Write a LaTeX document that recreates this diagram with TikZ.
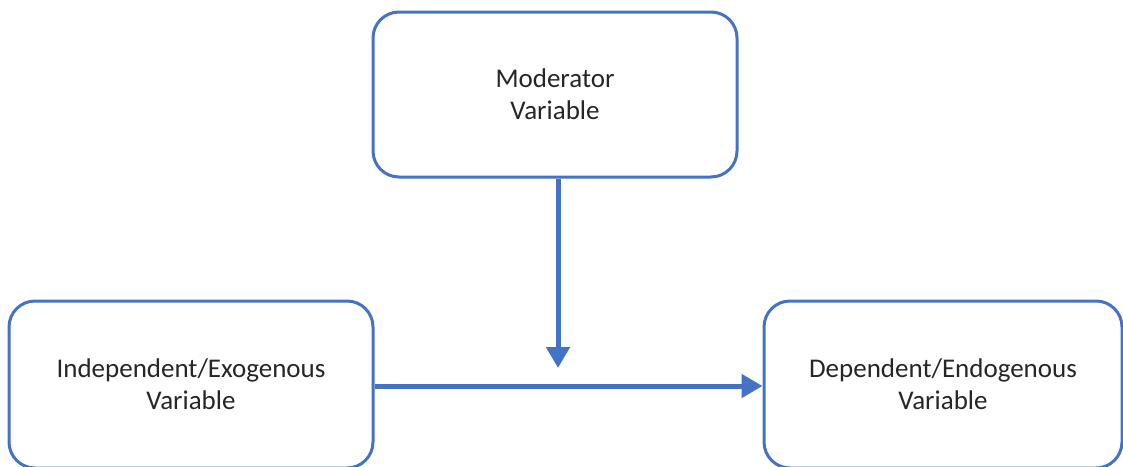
\documentclass[tikz,border=0pt]{standalone}
\usepackage{fontspec}
\setmainfont{Carlito}
\usetikzlibrary{arrows.meta}
\definecolor{boxblue}{HTML}{4472C4}
\definecolor{txt}{HTML}{262626}
\begin{document}
\begin{tikzpicture}[x=1pt,y=-1pt,
  varbox/.style={draw=boxblue, line width=3pt, rounded corners=26pt,
    fill=white, align=center, text=txt, inner sep=0pt,
    font=\fontsize{27}{32}\selectfont},
  link/.style={draw=boxblue, line width=5pt,
    -{Triangle[length=21pt,width=23pt]}}]
  \useasboundingbox (0,0) rectangle (1123,466);
  \fill[white] (0,0) rectangle (1123,466);
  \node[varbox, minimum width=364pt, minimum height=165pt] (mod) at (555,94.5)
    {Moderator\\Variable};
  \node[varbox, minimum width=364pt, minimum height=167pt] (ind) at (191,384.5)
    {Independent/Exogenous\\Variable};
  \node[varbox, minimum width=358pt, minimum height=167pt] (dep) at (943,384.5)
    {Dependent/Endogenous\\Variable};
  \coordinate (meet) at (558,368);
  \draw[link] ([xshift=3pt]mod.south) -- (meet);
  \draw[link] ([yshift=-1.5pt]ind.east) -- ([yshift=-1.5pt]dep.west);
\end{tikzpicture}
\end{document}
